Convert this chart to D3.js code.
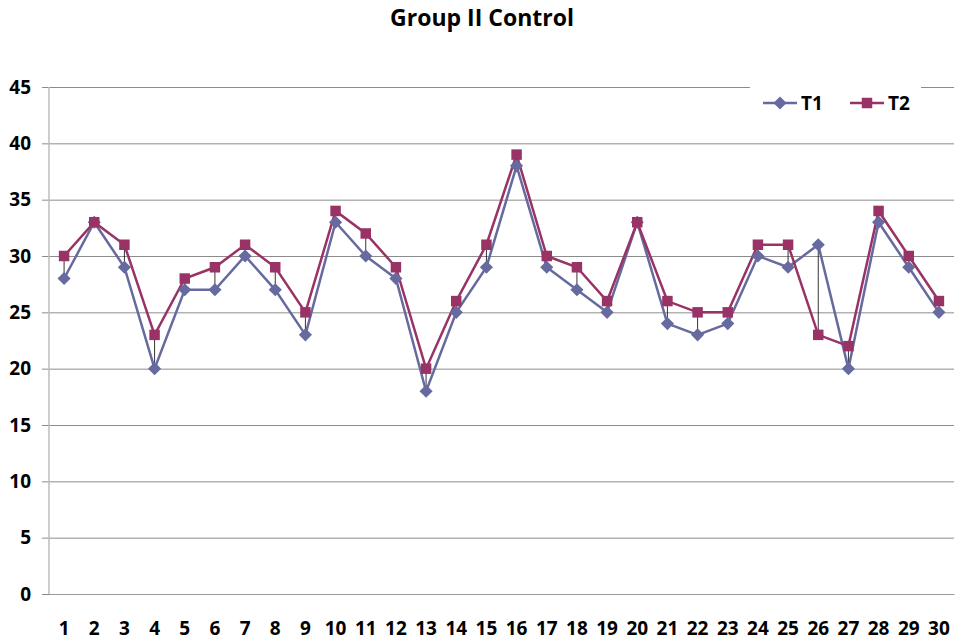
<!DOCTYPE html>
<html>
<head>
<meta charset="utf-8">
<script src="https://cdn.jsdelivr.net/npm/d3@7"></script>
<style>
  body { margin: 0; background: #fff; }
  svg text { font-family: "Open Sans", "Liberation Sans", sans-serif; font-weight: bold; }
</style>
</head>
<body>
<div id="chart"></div>
<script>
// data
var days = d3.range(1, 31).map(String)
var t1 = [28,33,29,20,27,27,30,27,23,33,30,28,18,25,29,38,29,27,25,33,24,23,24,30,29,31,20,33,29,25]
var t2 = [30,33,31,23,28,29,31,29,25,34,32,29,20,26,31,39,30,29,26,33,26,25,25,31,31,23,22,34,30,26]
var yTicks = [0,5,10,15,20,25,30,35,40,45]

var W = 955, H = 643
var margin = {top: 87, right: 1, bottom: 49, left: 49},
    width = W - margin.left - margin.right,
    height = H - margin.top - margin.bottom

var svg = d3.select("#chart").append("svg")
    .attr("width", W).attr("height", H)

svg.append("text")
    .attr("x", 482).attr("y", 26)
    .attr("text-anchor", "middle")
    .style("font-size", "23px")
    .text("Group II Control")

var g = svg.append("g")
    .attr("transform", "translate(" + margin.left + "," + margin.top + ")")

var x = d3.scaleBand().domain(days).range([0, width])
var y = d3.scaleLinear().domain([0, 45]).range([height, 0])
var cx = function(i) { return x(days[i]) + x.bandwidth() / 2 }

// gridlines
g.append("g")
  .call(d3.axisLeft(y).tickValues(yTicks).tickSize(-width).tickSizeOuter(0))
  .call(function(a) {
    a.select(".domain").remove()
    a.selectAll(".tick line").attr("stroke", "#8c8c8c").attr("x1", -7)
    a.selectAll(".tick text").style("font-size", "19px").attr("fill", "#000").attr("x", -18)
  })

// y axis line
g.append("line").attr("x1", 0).attr("x2", 0).attr("y1", 0).attr("y2", height)
  .attr("stroke", "#bdbdbd").attr("stroke-width", 1.5)

// x labels
g.append("g")
  .attr("transform", "translate(0," + height + ")")
  .call(d3.axisBottom(x).tickSize(0).tickPadding(28))
  .call(function(a) {
    a.select(".domain").attr("stroke", "#9a9a9a")
    a.selectAll(".tick text").style("font-size", "19px").attr("fill", "#000")
  })

// hi-lo lines
g.selectAll(".hilo").data(days).enter().append("line")
  .attr("x1", function(d, i) { return cx(i) }).attr("x2", function(d, i) { return cx(i) })
  .attr("y1", function(d, i) { return y(t1[i]) }).attr("y2", function(d, i) { return y(t2[i]) })
  .attr("stroke", "#000").attr("stroke-width", 0.8)

var line = d3.line().x(function(d, i) { return cx(i) }).y(function(d) { return y(d) })
var c1 = "#666a9f", c2 = "#993366"

g.append("path").datum(t1).attr("d", line).attr("fill", "none").attr("stroke", c1).attr("stroke-width", 2.5)
g.append("path").datum(t2).attr("d", line).attr("fill", "none").attr("stroke", c2).attr("stroke-width", 2.5)

var diamond = d3.symbol().type(d3.symbolDiamond2).size(110)
var square = d3.symbol().type(d3.symbolSquare).size(110)

g.selectAll(".m1").data(t1).enter().append("path")
  .attr("d", diamond)
  .attr("transform", function(d, i) { return "translate(" + cx(i) + "," + y(d) + ")" })
  .attr("fill", c1)
g.selectAll(".m2").data(t2).enter().append("path")
  .attr("d", square)
  .attr("transform", function(d, i) { return "translate(" + cx(i) + "," + y(d) + ")" })
  .attr("fill", c2)

// legend
var leg = svg.append("g")
leg.append("rect").attr("x", 750).attr("y", 80).attr("width", 171).attr("height", 44).attr("fill", "#fff")
var items = [{name: "T1", color: c1, sym: diamond, x: 763}, {name: "T2", color: c2, sym: square, x: 850}]
items.forEach(function(it) {
  leg.append("line").attr("x1", it.x).attr("x2", it.x + 34).attr("y1", 103).attr("y2", 103)
    .attr("stroke", it.color).attr("stroke-width", 2.5)
  leg.append("path").attr("d", it.sym).attr("fill", it.color)
    .attr("transform", "translate(" + (it.x + 17) + ",103)")
  leg.append("text").attr("x", it.x + 38).attr("y", 110).style("font-size", "19px").text(it.name)
})
</script>
</body>
</html>
